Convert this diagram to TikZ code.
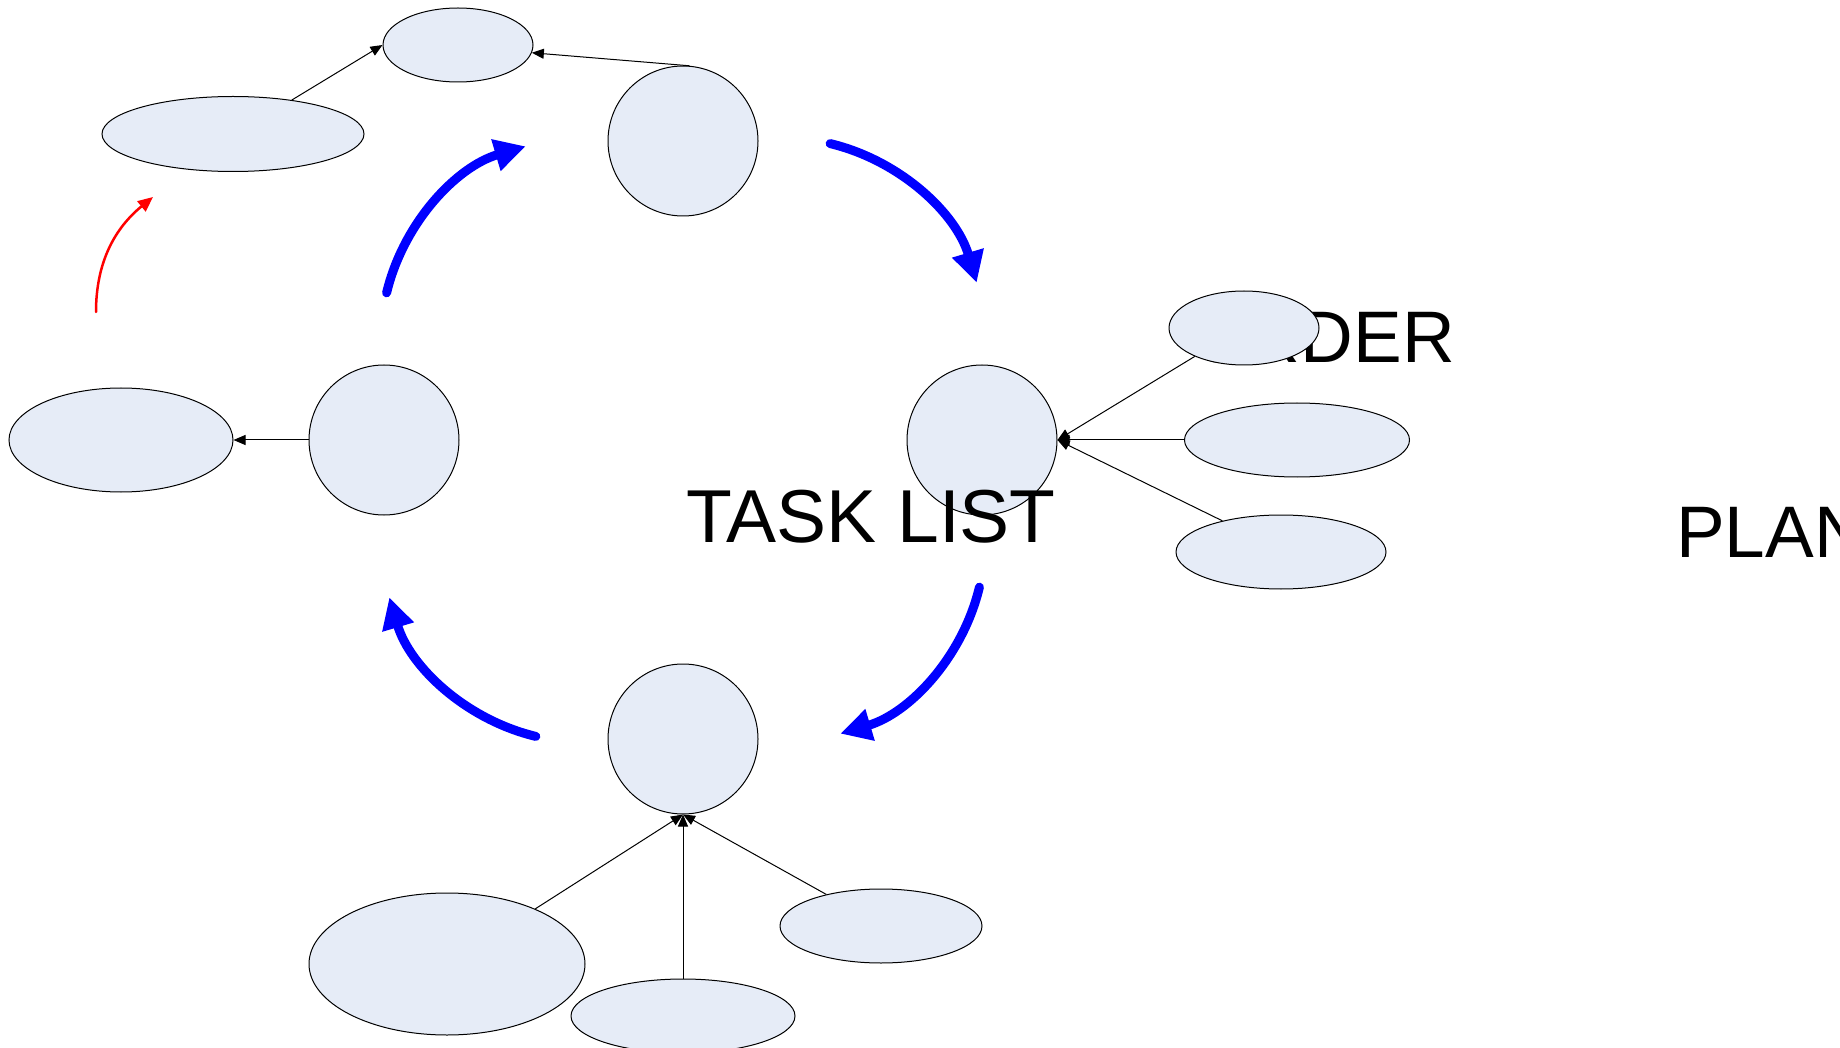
\documentclass[tikz,border=0pt]{standalone}
\usepackage{fontspec}
\setmainfont{Liberation Sans}
\usetikzlibrary{arrows.meta,shapes.geometric}
\definecolor{efill}{RGB}{230,236,247}
\begin{document}
\begin{tikzpicture}[x=1pt,y=-1pt,
  bub/.style={ellipse,draw=black,line width=1pt,fill=efill,inner sep=0pt},
  ring/.style={circle,draw=black,line width=1pt,fill=efill,inner sep=0pt,minimum size=150pt},
  link/.style={draw=black,line width=1pt,-{Triangle[length=12pt,width=10pt]}},
  cyc/.style={draw=blue,line width=9pt,line cap=round,-{Triangle[length=31pt,width=31pt]}},
  redarr/.style={draw=red,line width=2.5pt,line cap=round,-{Triangle[length=15pt,width=13pt]}},
  txt/.style={font=\fontsize{73}{80}\selectfont,inner sep=0pt,text=black}]
\useasboundingbox (0,0) rectangle (1840,1048);
\fill[white] (0,0) rectangle (1840,1048);

% text partly hidden by an ellipse
\node[txt,anchor=base east] (order) at (1455,363) {ORDER};
\node[txt,anchor=base west] (plan) at (1676,557) {PLAN};

% top group
\node[bub,minimum width=150pt,minimum height=74pt] (se) at (458,45) {};
\node[bub,minimum width=262pt,minimum height=75pt] (lt) at (233,134) {};
\node[ring] (tc) at (683,141) {};

% cycle circles
\node[ring] (lc) at (384,440) {};
\node[ring] (rc) at (982,440) {};
\node[ring] (bc) at (683,739) {};

% left ellipse
\node[bub,minimum width=224pt,minimum height=104pt] (le) at (121,440) {};

% right ellipses
\node[bub,minimum width=150pt,minimum height=74pt] (ru) at (1244,328) {};
\node[bub,minimum width=225pt,minimum height=74pt] (rm) at (1297,440) {};
\node[bub,minimum width=210pt,minimum height=74pt] (rl) at (1281,552) {};

% bottom ellipses
\node[bub,minimum width=276pt,minimum height=142pt] (bl) at (447,964) {};
\node[bub,minimum width=224pt,minimum height=74pt] (bm) at (683,1016) {};
\node[bub,minimum width=202pt,minimum height=74pt] (br) at (881,926) {};

\node[txt,font=\fontsize{75}{80}\selectfont,anchor=base west] (task) at (686,542) {TASK LIST};

% thin connectors
\draw[link] (lt.30) -- (se.west);
\draw[link] (tc.85) -- (se.-6);
\draw[link] (lc.west) -- (le.east);
\draw[link] (ru.210) -- (rc.east);
\draw[link] (rm.west) -- (rc.east);
\draw[link] (rl.152) -- (rc.east);
\draw[link] (bl.32) -- (bc.south);
\draw[link] (bm.north) -- (bc.south);
\draw[link] (br.150) -- (bc.south);

% blue cycle arrows
\coordinate (ctl) at (583,340);
\coordinate (ctr) at (783,340);
\coordinate (cbr) at (783,540);
\coordinate (cbl) at (583,540);
\draw[cyc] ([shift={(-166.5:202)}]ctl) arc[start angle=-166.5,end angle=-106.5,radius=202];
\draw[cyc] ([shift={(-76.5:202)}]ctr) arc[start angle=-76.5,end angle=-16.5,radius=202];
\draw[cyc] ([shift={(13.5:202)}]cbr) arc[start angle=13.5,end angle=73.5,radius=202];
\draw[cyc] ([shift={(103.5:202)}]cbl) arc[start angle=103.5,end angle=163.5,radius=202];

% red arrow
\coordinate (rs) at (96,312);
\coordinate (re) at (153,197);
\draw[redarr] (rs) .. controls (96,262) and (115,228) .. (re);
\end{tikzpicture}
\end{document}
